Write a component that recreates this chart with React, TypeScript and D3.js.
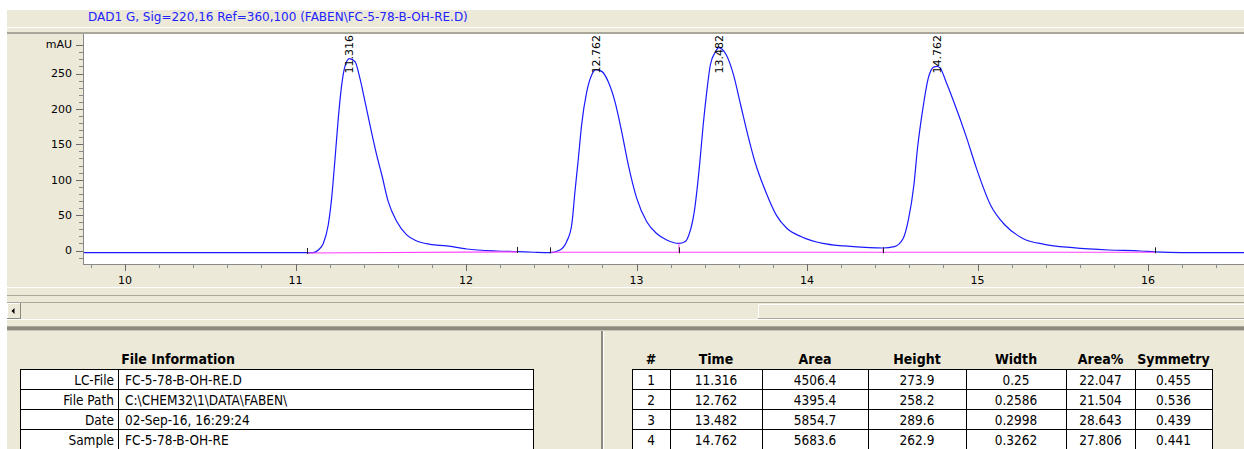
import React from "react";
import * as d3 from "d3";

// ---------- data ----------
const traceTime = [
  9.7, 11.066, 11.104, 11.134, 11.163, 11.192, 11.212, 11.232, 11.251, 11.271, 11.29, 11.316,
  11.349, 11.378, 11.408, 11.437, 11.476, 11.506, 11.544, 11.594, 11.652, 11.711, 11.789,
  11.887, 12.004, 12.18, 12.3, 12.4, 12.493, 12.551, 12.59, 12.62, 12.639, 12.659, 12.678,
  12.708, 12.737, 12.762, 12.796, 12.835, 12.874, 12.913, 12.952, 13.001, 13.06, 13.118,
  13.177, 13.249, 13.284, 13.307, 13.339, 13.37, 13.391, 13.412, 13.433, 13.464, 13.482,
  13.527, 13.569, 13.611, 13.653, 13.695, 13.758, 13.82, 13.883, 13.967, 14.093, 14.219,
  14.365, 14.446, 14.512, 14.564, 14.596, 14.627, 14.648, 14.68, 14.711, 14.743, 14.762,
  14.78, 14.816, 14.868, 14.931, 14.994, 15.077, 15.161, 15.266, 15.392, 15.559, 15.769,
  15.957, 16.04, 16.2, 16.6,
];
const traceMAU = [
  -3, -3, -3, 0.7, 10, 36, 74, 130, 187, 234, 260, 271,
  266.7, 243, 210, 177, 135, 107, 69, 41, 22, 13.4, 8.7,
  6.4, 2.1, -0.7, -1.6, -2.5, -3, 0.7, 12.4, 36, 83, 130, 177,
  224, 248, 255.5, 253, 238, 210, 168, 121, 74, 40.7, 24,
  14.8, 10, 12.4, 22, 55, 121, 177, 224, 262, 281, 286.5,
  276, 248, 205.5, 163, 125, 83, 50, 31, 19.5, 10, 6.4,
  4, 3.5, 5.4, 17, 45, 92.5, 144, 201, 243, 259, 260,
  258, 238, 205.5, 163, 116, 64, 36, 17, 8.7, 4, 0.7,
  -0.7, -2, -3, -3,
];

// integration baselines
const baseStartT = [11.066, 12.493];
const baseStartV = [-3.5, -2.5];
const baseEndT = [12.301, 16.04];
const baseEndV = [-2, -2.5];
// valley drop lines
const dropT = [13.249, 14.446];
const dropV = [10, 3.5];
// integration event ticks
const eventT = [11.066, 12.301, 12.493, 13.249, 14.446, 16.04];

// peak table
const peakNo = ["1", "2", "3", "4"];
const peakTime = ["11.316", "12.762", "13.482", "14.762"];
const peakArea = ["4506.4", "4395.4", "5854.7", "5683.6"];
const peakHeight = ["273.9", "258.2", "289.6", "262.9"];
const peakWidth = ["0.25", "0.2586", "0.2998", "0.3262"];
const peakAreaPct = ["22.047", "21.504", "28.643", "27.806"];
const peakSym = ["0.455", "0.536", "0.439", "0.441"];
const peakHeaders = ["#", "Time", "Area", "Height", "Width", "Area%", "Symmetry"];

// file info
const infoLabels = ["LC-File", "File Path", "Date", "Sample"];
const infoValues = ["FC-5-78-B-OH-RE.D", "C:\\CHEM32\\1\\DATA\\FABEN\\", "02-Sep-16, 16:29:24", "FC-5-78-B-OH-RE"];

const title = "DAD1 G, Sig=220,16 Ref=360,100 (FABEN\\FC-5-78-B-OH-RE.D)";
const xMajor = [10, 11, 12, 13, 14, 15, 16];
const yMajor = [0, 50, 100, 150, 200, 250];

// ---------- layout ----------
const W = 1244;
const H = 449;
const BEIGE = "#ECE9D8";
const SHADOW = "#ACA899";
const DARK = "#8C8A7E";
const UI_FONT = "'DejaVu Sans', Verdana, sans-serif";
const NARROW = "'Liberation Sans Narrow', 'DejaVu Sans Condensed', 'Arial Narrow', sans-serif";

const plotL = 84;
const plotR = W;
const plotT = 34;
const plotB = 264;

export default function App() {
  const x = d3.scaleLinear().domain([10, 16]).range([125, 1148]);
  const y = d3.scaleLinear().domain([0, 250]).range([250.5, 73.5]);

  const tMin = x.invert(plotL);
  const tMax = x.invert(plotR);
  const xMinor = d3.range(Math.ceil(tMin * 5), Math.floor(tMax * 5) + 1).map((i) => i / 5);
  const yMinor = d3.range(-10, 300, 10);

  const pts: [number, number][] = traceTime.map((t, i) => [t, traceMAU[i]]);
  const line = d3
    .line<[number, number]>()
    .x((d) => x(d[0]))
    .y((d) => y(d[1]))
    .curve(d3.curveMonotoneX);

  const baseAt = (t: number) => {
    for (let i = 0; i < baseStartT.length; i++) {
      if (t >= baseStartT[i] && t <= baseEndT[i]) {
        const f = (t - baseStartT[i]) / (baseEndT[i] - baseStartT[i]);
        return baseStartV[i] + f * (baseEndV[i] - baseStartV[i]);
      }
    }
    return -3;
  };

  // right peak table geometry
  const colEdges = [632, 670, 762, 868, 966, 1066, 1135, 1212];
  const tableTop = 369;
  const rowH = 20;
  const peakCols = [peakNo, peakTime, peakArea, peakHeight, peakWidth, peakAreaPct, peakSym];

  return (
    <svg
      width={W}
      height={H}
      style={{ position: "fixed", left: 0, top: 0, background: "#fff" }}
      xmlns="http://www.w3.org/2000/svg"
    >
      <defs>
        <clipPath id="plotClip">
          <rect x={plotL} y={plotT} width={plotR - plotL} height={plotB - plotT} />
        </clipPath>
      </defs>
      {/* window background */}
      <rect x={0} y={0} width={W} height={H} fill="#fff" />
      <rect x={7} y={10} width={W - 7} height={H - 10} fill={BEIGE} />

      {/* header */}
      <text x={88} y={21} fontFamily={UI_FONT} fontSize={12} fill="#2222ff">
        {title}
      </text>
      <rect x={7} y={27} width={W - 7} height={1} fill="#fff" />
      <rect x={7} y={32} width={W - 7} height={1} fill={SHADOW} />
      <rect x={7} y={33} width={W - 7} height={1} fill="#a6a59c" />

      {/* plot area */}
      <rect x={plotL} y={plotT} width={plotR - plotL} height={plotB - plotT} fill="#fff" />

      <g clipPath="url(#plotClip)">
        <path d={line(pts) || ""} fill="none" stroke="#1a1aff" strokeWidth={1.2} />
        {/* integration baselines */}
        {baseStartT.map((t, i) => (
          <line
            key={"b" + i}
            x1={x(t)}
            x2={x(baseEndT[i])}
            y1={y(baseStartV[i])}
            y2={y(baseEndV[i])}
            stroke="#ff40ff"
            strokeWidth={1.2}
          />
        ))}
        {dropT.map((t, i) => (
          <line
            key={"d" + i}
            x1={x(t)}
            x2={x(t)}
            y1={y(baseAt(t))}
            y2={y(dropV[i])}
            stroke="#ff40ff"
            strokeWidth={1}
          />
        ))}
        {eventT.map((t, i) => (
          <line
            key={"e" + i}
            x1={Math.round(x(t)) + 0.5}
            x2={Math.round(x(t)) + 0.5}
            y1={y(baseAt(t)) + 1}
            y2={y(baseAt(t)) - 5}
            stroke="#222"
            strokeWidth={1}
          />
        ))}
        {/* peak labels */}
        {peakTime.map((t, i) => (
          <text
            key={"p" + i}
            transform={`translate(${x(+t)},${plotT + 1}) rotate(-90)`}
            textAnchor="end"
            dy="0.35em"
            fontFamily={UI_FONT}
            fontSize={11}
            fill="#000"
          >
            {t}
          </text>
        ))}
      </g>

      {/* y axis */}
      <line x1={83.5} x2={83.5} y1={plotT} y2={plotB} stroke="#8a8a8a" />
      {yMinor.map((v) => (
        <line key={"ym" + v} x1={79} x2={83} y1={Math.round(y(v)) + 0.5} y2={Math.round(y(v)) + 0.5} stroke="#8a8a8a" />
      ))}
      {yMajor.map((v) => (
        <g key={"yM" + v}>
          <line x1={76} x2={83} y1={Math.round(y(v)) + 0.5} y2={Math.round(y(v)) + 0.5} stroke="#6a6a6a" />
          <text x={72} y={y(v)} dy="0.35em" textAnchor="end" fontFamily={UI_FONT} fontSize={11} fill="#000">
            {v}
          </text>
        </g>
      ))}
      <line x1={76} x2={83} y1={Math.round(y(290)) + 0.5} y2={Math.round(y(290)) + 0.5} stroke="#6a6a6a" />
      <text x={72} y={y(290)} dy="0.3em" textAnchor="end" fontFamily={UI_FONT} fontSize={11} fill="#000">
        mAU
      </text>

      {/* x axis */}
      <line x1={83} x2={plotR} y1={plotB + 0.5} y2={plotB + 0.5} stroke="#8a8a8a" />
      {xMinor.map((t) => (
        <line key={"xm" + t} x1={Math.round(x(t)) + 0.5} x2={Math.round(x(t)) + 0.5} y1={plotB} y2={plotB + 4} stroke="#8a8a8a" />
      ))}
      {xMajor.map((t) => (
        <g key={"xM" + t}>
          <line x1={Math.round(x(t)) + 0.5} x2={Math.round(x(t)) + 0.5} y1={plotB} y2={plotB + 7} stroke="#6a6a6a" />
          <text x={x(t)} y={280} dy="0.35em" textAnchor="middle" fontFamily={UI_FONT} fontSize={11} fill="#000">
            {t}
          </text>
        </g>
      ))}

      {/* splitter + scrollbar */}
      <rect x={7} y={287} width={W - 7} height={1} fill="#fff" />
      <rect x={7} y={295} width={W - 7} height={1} fill={SHADOW} />
      <rect x={7} y={302} width={W - 7} height={1} fill={SHADOW} />
      <rect x={7} y={319} width={W - 7} height={1} fill="#fff" />
      {/* left arrow button */}
      <rect x={7} y={303} width={14} height={16} fill={BEIGE} />
      <line x1={7.5} x2={7.5} y1={303} y2={319} stroke="#fff" />
      <line x1={7} x2={21} y1={303.5} y2={303.5} stroke="#fff" />
      <line x1={20.5} x2={20.5} y1={303} y2={319} stroke={DARK} />
      <line x1={7} x2={21} y1={318.5} y2={318.5} stroke={DARK} />
      <path d="M11.5,311 L14.5,308 L14.5,314 Z" fill="#000" />
      {/* thumb */}
      <rect x={758} y={304} width={W - 758} height={15} fill={BEIGE} />
      <line x1={758.5} x2={758.5} y1={304} y2={319} stroke="#fff" />
      <line x1={758} x2={W} y1={304.5} y2={304.5} stroke="#fff" />
      <line x1={758} x2={W} y1={318.5} y2={318.5} stroke={SHADOW} />

      <rect x={7} y={326} width={W - 7} height={1} fill={SHADOW} />
      <rect x={7} y={327} width={W - 7} height={3} fill={DARK} />
      <rect x={7} y={330} width={W - 7} height={1} fill="#c9c6b6" />

      {/* vertical divider in lower pane */}
      <rect x={601} y={331} width={2} height={H - 331} fill={DARK} />
      <rect x={603} y={331} width={1} height={H - 331} fill="#fff" />

      {/* File information table */}
      <text x={178} y={359} dy="0.35em" textAnchor="middle" fontFamily={NARROW} fontWeight="bold" fontSize={14} fill="#000">
        File Information
      </text>
      {infoLabels.map((lab, i) => (
        <g key={"fi" + i}>
          <rect x={20.5} y={tableTop + i * rowH + 0.5} width={98} height={rowH} fill="#fff" stroke="#000" />
          <rect x={118.5} y={tableTop + i * rowH + 0.5} width={415} height={rowH} fill="#fff" stroke="#000" />
          <text x={114} y={tableTop + i * rowH + rowH / 2 + 1} dy="0.35em" textAnchor="end" fontFamily={NARROW} fontSize={13.5} fill="#000">
            {lab}
          </text>
          <text x={125} y={tableTop + i * rowH + rowH / 2 + 1} dy="0.35em" fontFamily={NARROW} fontSize={13.5} fill="#000">
            {infoValues[i]}
          </text>
        </g>
      ))}

      {/* Peak table */}
      {peakHeaders.map((h, c) => (
        <text
          key={"ph" + c}
          x={(colEdges[c] + colEdges[c + 1]) / 2}
          y={359}
          dy="0.35em"
          textAnchor="middle"
          fontFamily={NARROW}
          fontWeight="bold"
          fontSize={14}
          fill="#000"
        >
          {h}
        </text>
      ))}
      {peakNo.map((_, r) => (
        <g key={"pr" + r}>
          {peakCols.map((col, c) => (
            <g key={"pc" + c}>
              <rect
                x={colEdges[c] + 0.5}
                y={tableTop + r * rowH + 0.5}
                width={colEdges[c + 1] - colEdges[c]}
                height={rowH}
                fill="#fff"
                stroke="#000"
              />
              <text
                x={(colEdges[c] + colEdges[c + 1]) / 2}
                y={tableTop + r * rowH + rowH / 2 + 1}
                dy="0.35em"
                textAnchor="middle"
                fontFamily={NARROW}
                fontSize={13.5}
                fill="#000"
              >
                {col[r]}
              </text>
            </g>
          ))}
        </g>
      ))}
    </svg>
  );
}
